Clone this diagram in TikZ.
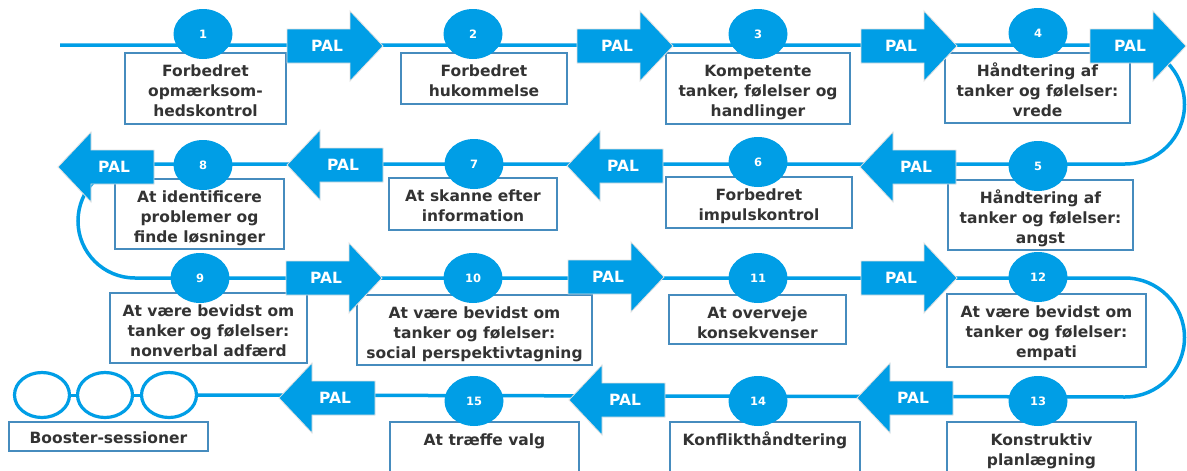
\documentclass[tikz,border=0pt]{standalone}
\usepackage{fontspec}
\setmainfont{DejaVu Sans}
\usetikzlibrary{shapes.geometric,calc}
\definecolor{palblue}{RGB}{0,158,230}
\definecolor{boxline}{RGB}{70,140,190}
\definecolor{txtgray}{RGB}{51,51,51}
\tikzset{
  track/.style={draw=palblue,line width=3.5pt},
  boxst/.style={draw=boxline,line width=1.4pt,fill=white,rectangle,inner sep=0pt,outer sep=0pt},
  lbl/.style={align=center,inner sep=0pt,text=txtgray,font=\fontsize{15.5}{20}\selectfont\bfseries},
  num/.style={ellipse,fill=palblue,minimum width=59pt,minimum height=50pt,inner sep=0pt,text=white,font=\fontsize{11.5}{13}\selectfont\bfseries},
  palshape/.style={fill=palblue,draw=black!12,line width=0.8pt},
  paltxt/.style={inner sep=0pt,text=white,font=\fontsize{15.5}{18}\selectfont\bfseries},
  booster/.style={ellipse,draw=palblue,line width=3.2pt,fill=white,minimum width=55pt,minimum height=45pt,inner sep=0pt}
}
\newcommand\stepbox[6]{%
  \node[boxst,minimum width={#4-#2},minimum height={#5-#3}] (#1) at ({(#2+#4)/2},{(#3+#5)/2}) {};
  \node[lbl,anchor=north] (#1t) at ($(#1.north)+(0,9)$) {\strut #6};}
\newcommand\palR[3]{%
  \path[palshape] (#2,#3-17) -- (#2+63,#3-17) -- (#2+63,#3-35) -- (#2+96,#3) -- (#2+63,#3+35) -- (#2+63,#3+17) -- (#2,#3+17) -- cycle;
  \node[paltxt] (#1) at (#2+40,#3) {PAL};}
\newcommand\palL[3]{%
  \path[palshape] (#2,#3) -- (#2+33,#3-35) -- (#2+33,#3-17) -- (#2+96,#3-17) -- (#2+96,#3+17) -- (#2+33,#3+17) -- (#2+33,#3+35) -- cycle;
  \node[paltxt] (#1) at (#2+56,#3) {PAL};}
\begin{document}
\begin{tikzpicture}[x=1pt,y=-1pt]
\useasboundingbox[fill=white] (0,0) rectangle (1187,471);
% booster ellipses
\node[booster] (bs1) at (42,395) {};
\node[booster] (bs2) at (105,395) {};
\node[booster] (bs3) at (169,395) {};
\draw[track,line width=3pt] (bs1.east) -- (bs2.west);
\draw[track,line width=3pt] (bs2.east) -- (bs3.west);
% track
\coordinate (start) at (60,45);
\coordinate (r1) at (1125,45);
\coordinate (l1) at (135,164);
\coordinate (r2) at (1125,278);
\draw[track] (start) -- (r1) arc[start angle=-90,end angle=90,radius=59.5]
  -- (l1) arc[start angle=270,end angle=90,radius=57]
  -- (r2) arc[start angle=-90,end angle=90,radius=59.5]
  -- (bs3.east);
% boxes
\stepbox{b1}{125}{53}{286}{124}{Forbedret\\opmærksom-\\hedskontrol}
\stepbox{b2}{401}{53}{567}{104}{Forbedret\\hukommelse}
\stepbox{b3}{666}{53}{850}{124}{Kompetente\\tanker, følelser og\\handlinger}
\stepbox{b4}{945}{53}{1130}{123}{Håndtering af\\tanker og følelser:\\vrede}
\stepbox{b5}{948}{180}{1133}{250}{Håndtering af\\tanker og følelser:\\angst}
\stepbox{b6}{666}{177}{852}{228}{Forbedret\\impulskontrol}
\stepbox{b7}{389}{178}{557}{230}{At skanne efter\\information}
\stepbox{b8}{115}{179}{284}{249}{At identificere\\problemer og\\finde løsninger}
\stepbox{b9}{110}{293}{307}{363}{At være bevidst om\\tanker og følelser:\\nonverbal adfærd}
\stepbox{b10}{357}{295}{592}{365}{At være bevidst om\\tanker og følelser:\\social perspektivtagning}
\stepbox{b11}{669}{295}{846}{344}{At overveje\\konsekvenser}
\stepbox{b12}{947}{294}{1146}{367}{At være bevidst om\\tanker og følelser:\\empati}
\stepbox{b13}{947}{422}{1136}{490}{Konstruktiv\\planlægning}
\stepbox{b14}{670}{422}{860}{490}{Konflikthåndtering}
\stepbox{b15}{390}{422}{579}{490}{At træffe valg}
\node[boxst,minimum width=199pt,minimum height=29pt] (bb) at (108.5,436.5) {};
\node[lbl,anchor=north] (bbt) at ($(bb.north)+(0,7)$) {\strut Booster-sessioner};
% numbers
\node[num] (n1) at (203,34) {1};
\node[num] (n2) at (473,34) {2};
\node[num] (n3) at (758,34) {3};
\node[num] (n4) at (1038,33) {4};
\node[num] (n5) at (1038,166) {5};
\node[num] (n6) at (758,162) {6};
\node[num] (n7) at (474,164) {7};
\node[num] (n8) at (203,165) {8};
\node[num] (n9) at (200,278) {9};
\node[num] (n10) at (473,278) {10};
\node[num] (n11) at (758,278) {11};
\node[num] (n12) at (1038,277) {12};
\node[num] (n13) at (1038,401) {13};
\node[num] (n14) at (758,401) {14};
\node[num] (n15) at (474,401) {15};
% PAL arrows
\palR{p1}{287}{46}
\palR{p2}{577}{46}
\palR{p3}{861}{46}
\palR{p4}{1090}{46}
\palL{p5}{860}{167}
\palL{p6}{567}{166}
\palL{p7}{287}{165}
\palL{p8}{58}{167}
\palR{p9}{286}{278}
\palR{p10}{568}{277}
\palR{p11}{861}{278}
\palL{p12}{857}{398}
\palL{p13}{569}{400}
\palL{p14}{279}{398}
\end{tikzpicture}
\end{document}
